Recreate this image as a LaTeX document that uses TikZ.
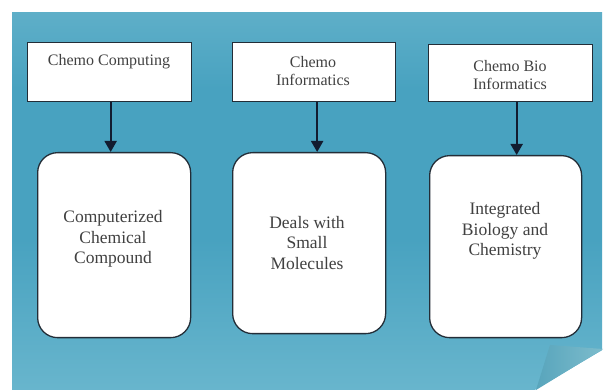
\documentclass[tikz,border=0pt]{standalone}
\usepackage{fontspec}
\setmainfont{Liberation Serif}
\usetikzlibrary{arrows.meta,calc}
\definecolor{paneltop}{RGB}{146,204,219}
\definecolor{panelmid}{RGB}{72,162,192}
\definecolor{panelbot}{RGB}{145,206,221}
\definecolor{edgec}{RGB}{35,45,55}
\definecolor{arrowc}{RGB}{18,28,48}
\definecolor{txtc}{RGB}{65,65,65}
\definecolor{flapc}{RGB}{88,165,188}
\definecolor{flapl}{RGB}{125,188,204}
\pgfdeclareverticalshading{panelshade}{100bp}{color(0bp)=(panelbot); color(20bp)=(panelbot!55!panelmid); color(45bp)=(panelmid); color(65bp)=(panelmid); color(85bp)=(paneltop!60!panelmid); color(100bp)=(paneltop)}
\tikzset{
  topbox/.style={draw=edgec,line width=1.3pt,fill=white,inner sep=0pt,anchor=north west},
  botbox/.style={draw=edgec,line width=1.3pt,fill=white,rounded corners=20pt,inner sep=0pt,anchor=north west},
  toptext/.style={text=txtc,align=center,font=\fontsize{16}{18}\selectfont,inner sep=0pt},
  bottext/.style={text=txtc,align=center,font=\fontsize{17.5}{20.5}\selectfont,inner sep=0pt},
  arr/.style={draw=arrowc,line width=2pt,-{Triangle[length=11pt,width=12pt]}}
}
\begin{document}
\begin{tikzpicture}[x=1pt,y=-1pt]
\useasboundingbox (0,0) rectangle (606,390);
\fill[white] (0,0) rectangle (606,390);
% panel
\shade[shading=panelshade] (12,13) rectangle (602,390);
% folded corner
\fill[white] (535,390) -- (606,348) -- (606,390) -- cycle;
\shade[left color=flapc,right color=flapl] (550,345) -- (536,390) -- (603,349) -- cycle;
% top boxes
\node[topbox,minimum width=164pt,minimum height=59pt] (t1) at (27,42) {};
\node[topbox,minimum width=163pt,minimum height=59pt] (t2) at (232,42) {};
\node[topbox,minimum width=164pt,minimum height=57pt] (t3) at (428,44) {};
\node[toptext] (l1) at (109,62) {Chemo Computing};
\node[toptext] (l2) at (313,71) {Chemo\\Informatics};
\node[toptext] (l3) at (510,75) {Chemo Bio\\Informatics};
% bottom boxes
\node[botbox,minimum width=153pt,minimum height=185pt] (b1) at (37,152) {};
\node[botbox,minimum width=153pt,minimum height=181pt] (b2) at (232,152) {};
\node[botbox,minimum width=152pt,minimum height=182pt] (b3) at (429,155) {};
\node[bottext] (m1) at (113,239) {Computerized\\Chemical\\Compound};
\node[bottext] (m2) at (307,243) {Deals with\\Small\\Molecules};
\node[bottext] (m3) at (505,231) {Integrated\\Biology and\\Chemistry};
% arrows
\draw[arr] ([xshift=1pt]t1.south) -- ([xshift=1pt]t1.south |- b1.north);
\draw[arr] ([xshift=3pt]t2.south) -- ([xshift=3pt]t2.south |- b2.north);
\draw[arr] ([xshift=6pt]t3.south) -- ([xshift=6pt]t3.south |- b3.north);
\end{tikzpicture}
\end{document}
